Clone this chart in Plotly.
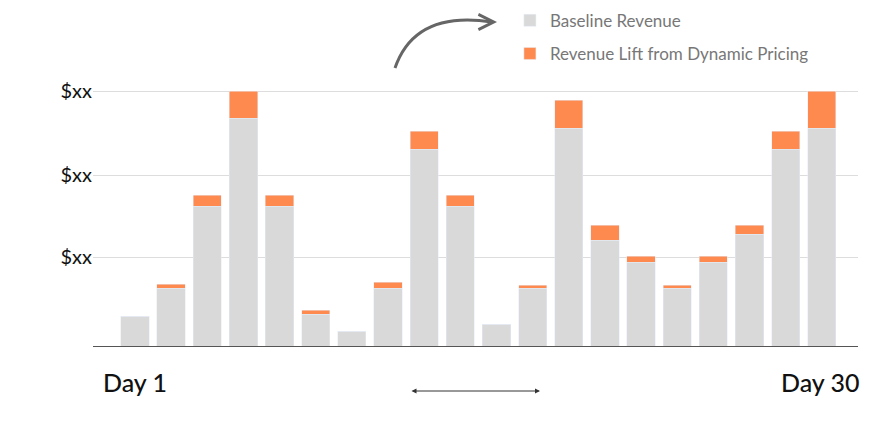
import plotly.graph_objects as go

days = list(range(20))
baseline = [30, 58, 140, 228, 140, 32, 15, 58, 197, 140, 22, 58, 218, 106, 84, 58, 84, 112, 197, 218]
lift = [0, 4, 11, 27, 11, 4, 0, 6, 18, 11, 0, 3, 28, 15, 6, 3, 6, 9, 18, 37]
tick_vals = [89, 171, 255]
tick_text = ["$xx", "$xx", "$xx"]

fig = go.Figure()
fig.add_bar(x=days, y=baseline, marker_color="#d9d9d9", name="Baseline Revenue", width=0.78,
            legendgroup="a")
fig.add_bar(x=days, y=lift, marker_color="#ff8a4f", name="Revenue Lift from Dynamic Pricing", width=0.78,
            legendgroup="b")

fig.update_layout(
    barmode="stack", width=888, height=443, plot_bgcolor="white", paper_bgcolor="white",
    margin=dict(l=85, r=38, t=52, b=105, autoexpand=False), showlegend=True,
    font=dict(family="Lato", color="#222"),
    legend=dict(x=0.545, y=1.2, xanchor="left", yanchor="top", font=dict(size=17, color="#777"),
                traceorder="grouped", tracegroupgap=8, bgcolor="rgba(0,0,0,0)"),
)
fig.update_xaxes(range=[-1.16, 20.0], showticklabels=False, showgrid=False,
                 showline=True, linecolor="#555", linewidth=1, ticks="")
fig.update_yaxes(range=[0, 286], tickvals=tick_vals, ticktext=tick_text, showgrid=True,
                 gridcolor="#dddddd", tickfont=dict(size=20, color="#111"), zeroline=False, ticklen=0)

fig.add_annotation(text="Day 1", xref="paper", yref="paper", x=0.01, y=-0.065, xanchor="left",
                   yanchor="top", showarrow=False, font=dict(size=25, color="#111", weight=500))
fig.add_annotation(text="Day 30", xref="paper", yref="paper", x=1.005, y=-0.065, xanchor="right",
                   yanchor="top", showarrow=False, font=dict(size=25, color="#111", weight=500))
fig.add_annotation(x=(540-93)/765, y=(346-391)/286, xref="paper", yref="paper", ax=-130, ay=0,
                   text="", showarrow=True, arrowside="end+start", arrowhead=2, arrowwidth=1,
                   arrowcolor="#333", arrowsize=1)
fig.add_shape(type="path", xref="paper", yref="paper",
              path=f"M {(395-93)/765} {(346-68)/286} Q {(415-93)/765} {(346-10)/286} {(492-93)/765} {(346-22)/286}",
              line=dict(color="#666", width=3))
fig.add_annotation(x=(497-93)/765, y=(346-22)/286, xref="paper", yref="paper", ax=-10, ay=0,
                   text="", showarrow=True, arrowhead=5, arrowwidth=3, arrowcolor="#666", arrowsize=1)

fig.write_html("out.html")
